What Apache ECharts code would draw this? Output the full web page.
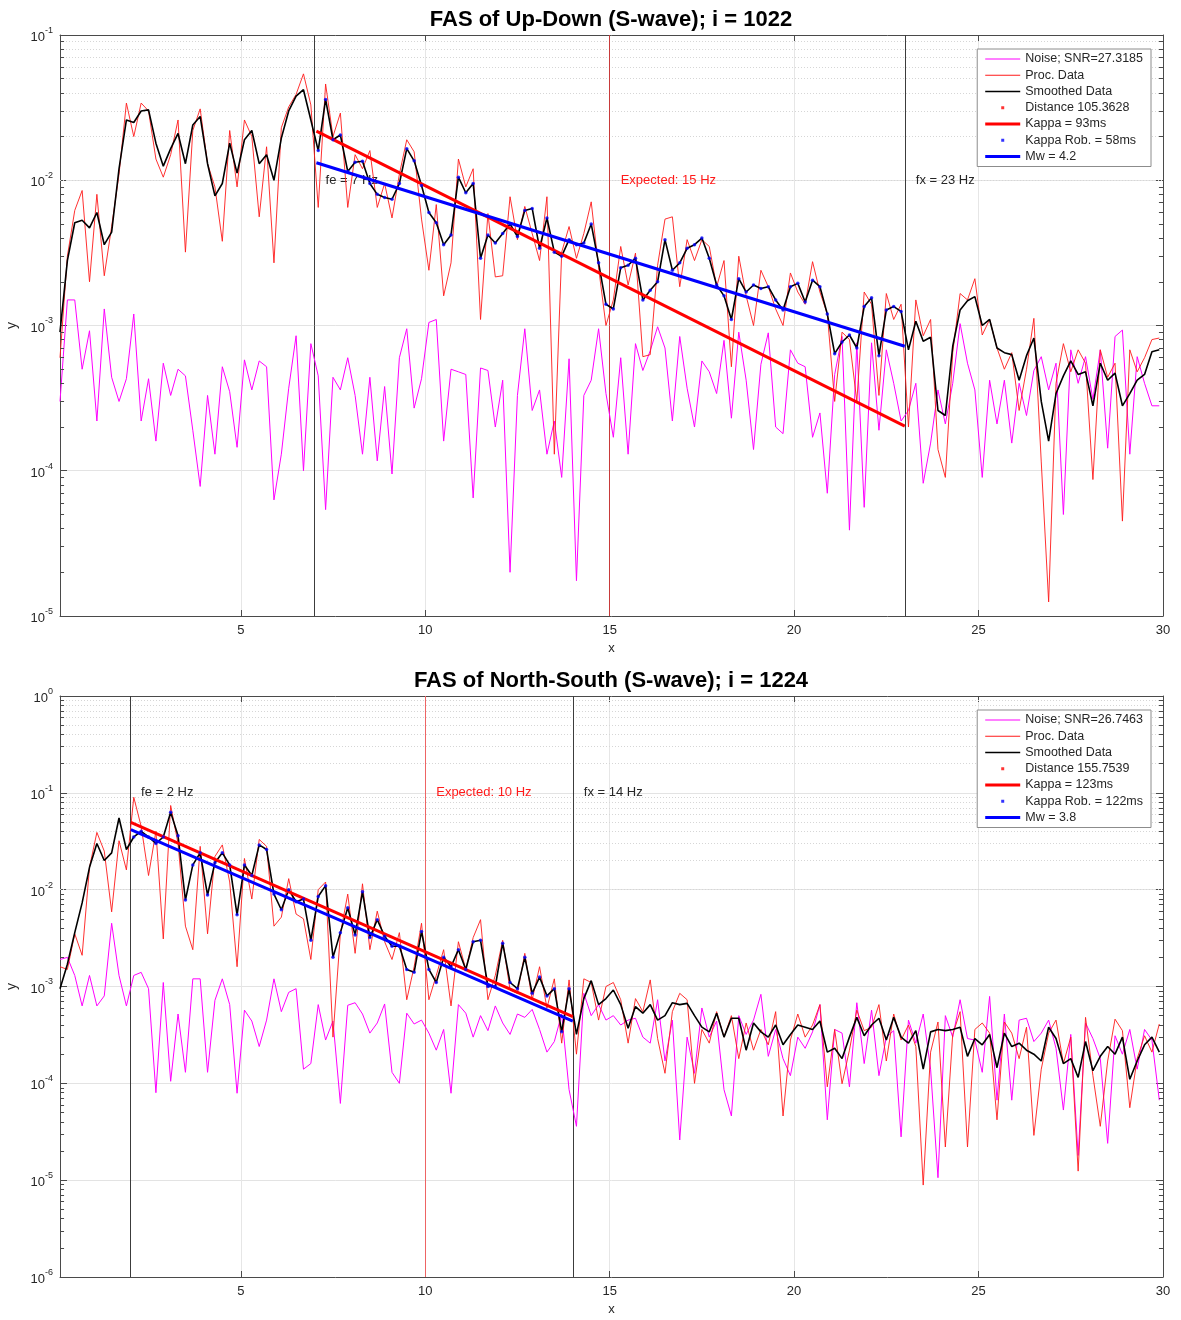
<!DOCTYPE html>
<html>
<head>
<meta charset="utf-8">
<title>FAS</title>
<script src="https://cdn.jsdelivr.net/npm/echarts@6/dist/echarts.min.js"></script>
<style>
  html, body { margin: 0; padding: 0; background: #fff; }
  #chart { width: 1181px; height: 1320px; }
</style>
</head>
<body>
<div id="chart"></div>
<script>
// frequency grid (Hz), shared by every spectrum below
const FREQ_START = 0.1;
const FREQ_STEP = 0.2;
const N_FREQ = 150;

// ---- Up-Down, i = 1022 ----
const udNoise = [
  3.0e-4, 1.5e-3, 1.5e-3, 5.0e-4, 9.2e-4, 2.2e-4, 1.3e-3, 4.4e-4, 3.0e-4, 4.3e-4,
  1.2e-3, 2.2e-4, 4.3e-4, 1.6e-4, 5.5e-4, 3.3e-4, 5.0e-4, 4.5e-4, 1.9e-4, 7.8e-5,
  3.3e-4, 1.3e-4, 5.2e-4, 3.5e-4, 1.45e-4, 5.8e-4, 3.6e-4, 5.7e-4, 5.2e-4, 6.3e-5,
  1.3e-4, 3.7e-4, 8.5e-4, 1.0e-4, 7.5e-4, 4.5e-4, 5.4e-5, 4.4e-4, 3.6e-4, 6.0e-4,
  3.3e-4, 1.3e-4, 4.4e-4, 1.17e-4, 3.8e-4, 9.5e-5, 6.0e-4, 9.5e-4, 2.7e-4, 4.3e-4,
  1.05e-3, 1.1e-3, 1.6e-4, 5.0e-4, 4.8e-4, 4.6e-4, 6.5e-5, 5.1e-4, 4.9e-4, 2.0e-4,
  4.2e-4, 2.0e-5, 3.3e-4, 9.5e-4, 2.6e-4, 3.6e-4, 1.3e-4, 2.2e-4, 9.0e-5, 5.9e-4,
  1.75e-5, 3.3e-4, 4.2e-4, 9.5e-4, 3.4e-4, 1.7e-4, 6.0e-4, 1.3e-4, 7.5e-4, 4.9e-4,
  6.7e-4, 9.8e-4, 7.0e-4, 2.2e-4, 8.4e-4, 3.7e-4, 2.0e-4, 5.7e-4, 4.8e-4, 3.4e-4,
  7.9e-4, 2.3e-4, 9.0e-4, 4.2e-4, 1.4e-4, 5.4e-4, 8.9e-4, 2.0e-4, 1.8e-4, 6.8e-4,
  5.5e-4, 5.2e-4, 1.7e-4, 2.5e-4, 7.0e-5, 4.6e-4, 8.4e-4, 3.9e-5, 7.6e-4, 5.6e-5,
  7.6e-4, 1.9e-4, 6.8e-4, 4.0e-4, 2.2e-4, 2.6e-4, 4.0e-4, 8.2e-5, 1.55e-4, 3.6e-4,
  2.1e-4, 4.0e-4, 1.03e-3, 5.5e-4, 3.6e-4, 9.0e-5, 4.2e-4, 2.1e-4, 4.2e-4, 1.55e-4,
  4.0e-4, 2.4e-4, 4.9e-4, 6.1e-4, 3.6e-4, 5.5e-4, 5.0e-5, 6.8e-4, 4.0e-4, 6.1e-4,
  3.1e-4, 6.8e-4, 1.43e-4, 8.4e-4, 9.3e-4, 1.3e-4, 6.1e-4, 4.0e-4, 2.8e-4, 2.8e-4
];
const udProc = [
  6.0e-4, 3.0e-3, 6.2e-3, 8.5e-3, 2.0e-3, 8.0e-3, 2.2e-3, 4.8e-3, 1.1e-2, 3.4e-2,
  2.0e-2, 3.4e-2, 3.0e-2, 1.4e-2, 1.05e-2, 1.5e-2, 2.6e-2, 3.2e-3, 2.2e-2, 3.1e-2,
  1.3e-2, 9.0e-3, 3.8e-3, 2.2e-2, 9.0e-3, 2.6e-2, 2.0e-2, 5.6e-3, 1.7e-2, 2.7e-3,
  2.3e-2, 3.2e-2, 3.9e-2, 5.4e-2, 3.3e-2, 6.5e-3, 4.6e-2, 2.0e-2, 2.9e-2, 6.5e-3,
  1.5e-2, 1.2e-2, 1.6e-2, 6.5e-3, 9.5e-3, 5.5e-3, 1.1e-2, 1.9e-2, 1.57e-2, 5.4e-3,
  2.4e-3, 6.8e-3, 1.6e-3, 2.7e-3, 1.4e-2, 9.0e-3, 1.2e-2, 1.1e-3, 5.9e-3, 2.16e-3,
  2.2e-3, 7.7e-3, 3.9e-3, 6.6e-3, 4.3e-3, 2.8e-3, 7.7e-3, 1.3e-4, 3.2e-3, 4.8e-3,
  2.9e-3, 4.3e-3, 7.1e-3, 2.5e-3, 1.0e-3, 1.5e-3, 3.5e-3, 1.9e-3, 3.15e-3, 6.1e-4,
  6.3e-4, 2.6e-3, 5.4e-3, 5.6e-3, 1.85e-3, 3.9e-3, 2.8e-3, 3.9e-3, 3.5e-3, 1.85e-3,
  2.8e-3, 5.2e-4, 3.0e-3, 1.6e-3, 1.0e-3, 2.4e-3, 1.85e-3, 1.3e-3, 1.0e-3, 2.3e-3,
  1.7e-3, 1.4e-3, 2.75e-3, 1.7e-3, 1.2e-3, 3.0e-4, 9.0e-4, 8.0e-4, 3.0e-4, 1.7e-3,
  1.4e-3, 3.3e-4, 1.66e-3, 1.1e-3, 1.4e-3, 2.0e-4, 1.5e-3, 8.5e-4, 1.1e-3, 1.4e-4,
  9.0e-5, 6.5e-4, 1.66e-3, 1.5e-3, 2.1e-3, 8.6e-4, 1.1e-3, 7.0e-4, 5.0e-4, 6.5e-4,
  2.6e-4, 5.0e-4, 1.12e-3, 1.15e-4, 1.25e-5, 4.0e-4, 7.5e-4, 4.8e-4, 6.8e-4, 5.5e-4,
  8.7e-5, 6.8e-4, 4.4e-4, 5.5e-4, 4.5e-5, 6.8e-4, 4.8e-4, 6.0e-4, 8.0e-4, 8.2e-4
];
const udSmooth = [
  9.0e-4, 2.8e-3, 5.1e-3, 5.3e-3, 4.7e-3, 6.0e-3, 3.6e-3, 4.4e-3, 1.2e-2, 2.6e-2,
  2.5e-2, 3.0e-2, 3.05e-2, 1.8e-2, 1.25e-2, 1.65e-2, 2.1e-2, 1.3e-2, 2.4e-2, 2.75e-2,
  1.3e-2, 7.8e-3, 9.5e-3, 1.8e-2, 1.12e-2, 1.9e-2, 2.2e-2, 1.3e-2, 1.5e-2, 1.0e-2,
  1.95e-2, 3.0e-2, 3.8e-2, 4.2e-2, 2.6e-2, 1.6e-2, 3.6e-2, 1.9e-2, 2.05e-2, 1.15e-2,
  1.33e-2, 1.35e-2, 9.5e-3, 8.0e-3, 7.6e-3, 7.4e-3, 9.5e-3, 1.65e-2, 1.36e-2, 9.2e-3,
  6.0e-3, 5.1e-3, 3.6e-3, 4.2e-3, 1.05e-2, 8.2e-3, 9.5e-3, 2.9e-3, 4.2e-3, 3.7e-3,
  4.3e-3, 5.0e-3, 4.1e-3, 6.2e-3, 6.4e-3, 3.4e-3, 5.5e-3, 3.2e-3, 3.0e-3, 3.9e-3,
  3.6e-3, 3.7e-3, 5.0e-3, 2.7e-3, 1.4e-3, 1.3e-3, 2.5e-3, 2.6e-3, 2.9e-3, 1.5e-3,
  1.75e-3, 2.0e-3, 3.9e-3, 2.4e-3, 2.7e-3, 3.4e-3, 3.6e-3, 4.0e-3, 2.9e-3, 1.9e-3,
  1.6e-3, 1.1e-3, 2.1e-3, 1.7e-3, 1.9e-3, 1.8e-3, 1.85e-3, 1.5e-3, 1.28e-3, 1.85e-3,
  1.95e-3, 1.45e-3, 2.05e-3, 1.85e-3, 1.2e-3, 6.4e-4, 7.7e-4, 8.6e-4, 7.0e-4, 1.35e-3,
  1.55e-3, 6.2e-4, 1.28e-3, 1.35e-3, 1.25e-3, 6.8e-4, 1.07e-3, 7.8e-4, 8.3e-4, 2.6e-4,
  2.4e-4, 7.2e-4, 1.28e-3, 1.48e-3, 1.58e-3, 1.0e-3, 1.1e-3, 7.0e-4, 6.5e-4, 6.3e-4,
  4.2e-4, 6.2e-4, 8.2e-4, 3.0e-4, 1.6e-4, 3.4e-4, 4.5e-4, 5.7e-4, 4.6e-4, 4.8e-4,
  2.8e-4, 5.5e-4, 4.2e-4, 4.7e-4, 2.8e-4, 3.4e-4, 4.2e-4, 4.6e-4, 6.6e-4, 6.8e-4
];
const udKappa = [[7.05, 2.18e-2], [23, 2.03e-4]];
const udMw = [[7.05, 1.32e-2], [23, 7.2e-4]];
const udMarks = [7, 15, 23]; // fe, expected, fx
const udLegend = ['Noise; SNR=27.3185', 'Proc. Data', 'Smoothed Data', 'Distance 105.3628',
  'Kappa = 93ms', 'Kappa Rob. = 58ms', 'Mw = 4.2'];
const udTicks = [1e-5, 1e-4, 1e-3, 1e-2, 1e-1];

// ---- North-South, i = 1224 ----
const nsNoise = [
  1.9e-3, 2.0e-3, 1.3e-3, 6.3e-4, 1.3e-3, 6.3e-4, 8.0e-4, 4.5e-3, 1.3e-3, 6.3e-4,
  1.3e-3, 1.4e-3, 9.5e-4, 8.0e-5, 1.1e-3, 1.05e-4, 5.2e-4, 1.3e-4, 1.2e-3, 1.2e-3,
  1.3e-4, 7.2e-4, 1.2e-3, 6.5e-4, 7.9e-5, 5.7e-4, 4.4e-4, 2.4e-4, 4.5e-4, 1.2e-3,
  5.5e-4, 8.7e-4, 9.5e-4, 1.4e-4, 1.6e-4, 6.5e-4, 2.8e-4, 4.4e-4, 6.2e-5, 6.4e-4,
  6.8e-4, 5.2e-4, 3.3e-4, 4.2e-4, 6.6e-4, 1.3e-4, 1.0e-4, 5.3e-4, 4.1e-4, 4.5e-4,
  3.3e-4, 2.2e-4, 3.6e-4, 7.9e-5, 6.5e-4, 5.3e-4, 3.0e-4, 5.0e-4, 3.5e-4, 6.3e-4,
  4.2e-4, 3.2e-4, 5.2e-4, 4.8e-4, 5.8e-4, 3.6e-4, 2.1e-4, 2.7e-4, 5.2e-4, 8.6e-5,
  3.6e-5, 8.5e-4, 5.0e-4, 6.5e-4, 4.5e-4, 5.0e-4, 4.0e-4, 4.5e-4, 4.7e-4, 3.0e-4,
  2.6e-4, 7.3e-4, 1.7e-4, 4.5e-4, 2.6e-5, 3.0e-4, 1.27e-4, 6.0e-4, 3.0e-4, 4.4e-4,
  8.6e-5, 4.6e-5, 5.0e-4, 3.2e-4, 4.5e-4, 8.3e-4, 1.9e-4, 3.6e-4, 1.8e-4, 1.2e-4,
  3.0e-4, 2.3e-4, 3.4e-4, 6.5e-4, 4.2e-5, 3.6e-4, 3.3e-4, 9.2e-5, 6.8e-4, 1.6e-4,
  5.7e-4, 1.2e-4, 3.0e-4, 3.5e-4, 2.8e-5, 4.5e-4, 2.6e-4, 5.2e-4, 1.4e-4, 1.06e-5,
  5.0e-4, 3.0e-4, 7.3e-4, 2.9e-4, 2.8e-4, 1.3e-4, 7.9e-4, 6.7e-5, 5.2e-4, 6.7e-5,
  4.5e-4, 4.7e-4, 2.7e-4, 3.3e-4, 4.5e-4, 2.3e-4, 5.3e-5, 3.2e-4, 1.8e-5, 4.2e-4,
  2.9e-4, 1.8e-4, 2.4e-5, 3.1e-4, 2.0e-4, 3.6e-4, 1.4e-4, 3.6e-4, 2.8e-4, 6.7e-5
];
const nsProc = [
  1.6e-3, 1.5e-3, 3.5e-3, 2.1e-3, 1.7e-2, 3.9e-2, 2.5e-2, 5.9e-3, 3.2e-2, 1.6e-2,
  9.0e-2, 4.5e-2, 1.4e-2, 4.0e-2, 3.1e-3, 7.4e-2, 3.0e-2, 4.2e-3, 2.4e-3, 2.8e-2,
  3.5e-3, 2.2e-2, 2.9e-2, 1.2e-2, 1.6e-3, 2.1e-2, 8.0e-3, 3.3e-2, 2.8e-2, 4.2e-3,
  5.2e-3, 1.3e-2, 5.6e-3, 5.0e-3, 1.9e-3, 1.0e-2, 1.2e-2, 3.0e-4, 3.5e-3, 9.0e-3,
  2.2e-3, 1.15e-2, 2.4e-3, 6.0e-3, 2.9e-3, 1.9e-3, 3.6e-3, 7.3e-4, 1.6e-3, 4.5e-3,
  7.3e-4, 1.3e-3, 2.4e-3, 6.3e-4, 2.9e-3, 1.5e-3, 3.2e-3, 4.9e-3, 7.3e-4, 1.3e-3,
  3.0e-3, 9.2e-4, 8.5e-4, 2.2e-3, 7.3e-4, 1.6e-3, 6.0e-4, 1.2e-3, 2.6e-4, 1.17e-3,
  2.0e-4, 1.2e-3, 1.1e-3, 4.5e-4, 1.0e-3, 1.1e-3, 7.3e-4, 2.6e-4, 7.5e-4, 5.5e-4,
  1.17e-3, 2.9e-4, 1.27e-4, 5.5e-4, 8.5e-4, 7.3e-4, 1.0e-4, 3.6e-4, 2.6e-4, 5.5e-4,
  3.0e-4, 5.0e-4, 1.8e-4, 4.2e-4, 2.2e-4, 3.6e-4, 2.5e-4, 5.5e-4, 4.6e-5, 2.8e-4,
  5.2e-4, 3.0e-4, 4.0e-4, 6.5e-4, 9.2e-5, 3.6e-4, 9.9e-5, 2.2e-4, 5.7e-4, 3.5e-4,
  3.8e-4, 6.5e-4, 1.7e-4, 5.2e-4, 2.8e-4, 4.0e-4, 2.4e-4, 8.9e-6, 2.1e-4, 4.3e-4,
  2.2e-5, 3.2e-4, 5.5e-4, 2.2e-5, 3.6e-4, 4.2e-4, 3.3e-4, 4.2e-5, 4.3e-4, 3.3e-4,
  1.8e-4, 3.8e-4, 2.9e-5, 1.4e-4, 3.3e-4, 4.5e-4, 1.6e-4, 3.0e-4, 1.24e-5, 4.8e-4,
  1.2e-4, 3.6e-5, 1.7e-4, 4.6e-4, 3.5e-4, 5.6e-5, 1.8e-4, 3.1e-4, 2.1e-4, 4.1e-4
];
const nsSmooth = [
  9.5e-4, 1.7e-3, 3.6e-3, 7.3e-3, 1.7e-2, 3.0e-2, 2.0e-2, 2.4e-2, 5.5e-2, 2.6e-2,
  3.5e-2, 4.0e-2, 3.5e-2, 3.0e-2, 3.5e-2, 6.3e-2, 3.6e-2, 7.8e-3, 1.8e-2, 2.4e-2,
  8.8e-3, 1.9e-2, 2.4e-2, 1.8e-2, 5.5e-3, 1.8e-2, 1.4e-2, 2.9e-2, 2.6e-2, 9.0e-3,
  6.2e-3, 1.0e-2, 7.5e-3, 8.0e-3, 3.0e-3, 8.5e-3, 1.1e-2, 2.0e-3, 3.6e-3, 6.5e-3,
  3.4e-3, 9.5e-3, 3.2e-3, 4.9e-3, 3.3e-3, 2.6e-3, 2.6e-3, 1.5e-3, 1.4e-3, 3.7e-3,
  1.5e-3, 1.1e-3, 2.0e-3, 1.6e-3, 2.4e-3, 1.5e-3, 2.9e-3, 3.0e-3, 1.0e-3, 1.0e-3,
  2.8e-3, 1.1e-3, 9.5e-4, 2.0e-3, 8.5e-4, 1.25e-3, 8.0e-4, 9.5e-4, 3.4e-4, 9.5e-4,
  3.2e-4, 7.5e-4, 1.15e-3, 6.5e-4, 7.5e-4, 9.2e-4, 6.5e-4, 3.7e-4, 6.2e-4, 5.3e-4,
  6.5e-4, 4.5e-4, 5.0e-4, 6.8e-4, 6.5e-4, 6.7e-4, 5.0e-4, 3.8e-4, 3.4e-4, 5.3e-4,
  3.0e-4, 4.7e-4, 4.7e-4, 2.2e-4, 4.2e-4, 3.4e-4, 3.0e-4, 4.0e-4, 2.5e-4, 3.2e-4,
  4.0e-4, 3.8e-4, 3.6e-4, 4.4e-4, 2.1e-4, 2.3e-4, 1.8e-4, 3.0e-4, 4.8e-4, 3.1e-4,
  4.0e-4, 4.7e-4, 2.8e-4, 4.8e-4, 3.0e-4, 2.6e-4, 3.5e-4, 1.4e-4, 3.4e-4, 3.6e-4,
  3.5e-4, 3.6e-4, 3.8e-4, 1.9e-4, 2.9e-4, 2.5e-4, 3.2e-4, 1.45e-4, 3.3e-4, 2.4e-4,
  2.6e-4, 2.2e-4, 2.0e-4, 1.7e-4, 3.8e-4, 2.9e-4, 1.6e-4, 1.8e-4, 1.15e-4, 2.7e-4,
  1.35e-4, 1.9e-4, 2.4e-4, 2.0e-4, 3.0e-4, 1.1e-4, 1.7e-4, 2.5e-4, 3.0e-4, 2.1e-4
];
const nsKappa = [[2.02, 4.96e-2], [14, 4.88e-4]];
const nsMw = [[2.02, 4.16e-2], [14, 4.4e-4]];
const nsMarks = [2, 10, 14];
const nsLegend = ['Noise; SNR=26.7463', 'Proc. Data', 'Smoothed Data', 'Distance 155.7539',
  'Kappa = 123ms', 'Kappa Rob. = 122ms', 'Mw = 3.8'];
const nsTicks = [1e-6, 1e-5, 1e-4, 1e-3, 1e-2, 1e-1, 1];

const freqs = Array.from({ length: N_FREQ }, (_, i) => Math.round((FREQ_START + i * FREQ_STEP) * 100) / 100);
const pairs = (vals) => vals.map((v, i) => [freqs[i], v]);

const FONT = "'Liberation Sans', Arial, Helvetica, sans-serif";
const INK = '#262626';
const FRAME = '#4a4a4a';
// legend icons drawn in a 35x14 box
const DOT_ICON = 'path://M0,0M35,14M16,5.5h3v3h-3z';
const THIN_ICON = 'path://M0,0M35,14M0,6.5h35v1h-35z';
const MID_ICON = 'path://M0,0M35,14M0,6.2h35v1.6h-35z';
const THICK_ICON = 'path://M0,0M35,14M0,5.5h35v3h-35z';
const LEGEND_ICONS = [THIN_ICON, THIN_ICON, MID_ICON, DOT_ICON, THICK_ICON, DOT_ICON, THICK_ICON];

const panels = [
  {
    title: 'FAS of Up-Down (S-wave); i = 1022', top: 35, legendTop: 49,
    ticks: udTicks, noise: udNoise, proc: udProc, smooth: udSmooth,
    kappa: udKappa, mw: udMw, marks: udMarks, legend: udLegend, labelAt: 1e-2,
    expColor: '#c83a3a'
  },
  {
    title: 'FAS of North-South (S-wave); i = 1224', top: 696, legendTop: 710,
    ticks: nsTicks, noise: nsNoise, proc: nsProc, smooth: nsSmooth,
    kappa: nsKappa, mw: nsMw, marks: nsMarks, legend: nsLegend, labelAt: 1e-1,
    expColor: '#ee6464'
  }
];

const PLOT_H = 581;
const option = {
  animation: false,
  backgroundColor: '#fff',
  textStyle: { fontFamily: FONT },
  grid: [], xAxis: [], yAxis: [], series: [], legend: [], graphic: []
};

panels.forEach((p, gi) => {
  const yMin = p.ticks[0];
  const yMax = p.ticks[p.ticks.length - 1];
  const [fe, fexp, fx] = p.marks;

  option.grid.push({
    left: 60, top: p.top, width: 1103, height: PLOT_H,
    containLabel: false, outerBoundsMode: 'none'
  });

  // bottom and top x axes
  option.xAxis.push({
    type: 'value', gridIndex: gi, min: 0.1, max: 30, position: 'bottom',
    name: 'x', nameLocation: 'middle', nameGap: 26,
    nameTextStyle: { fontSize: 13, color: INK },
    axisLine: { show: true, lineStyle: { color: FRAME } },
    axisTick: { show: true, inside: true, length: 6, lineStyle: { color: FRAME } },
    axisLabel: { fontSize: 13, color: INK, margin: 8, showMinLabel: false },
    splitLine: { show: true, lineStyle: { color: '#e6e6e6', width: 1 } }
  });
  option.xAxis.push({
    type: 'value', gridIndex: gi, min: 0.1, max: 30, position: 'top',
    axisLine: { show: true, lineStyle: { color: FRAME } },
    axisTick: { show: true, inside: true, length: 6, lineStyle: { color: FRAME } },
    axisLabel: { show: false }, splitLine: { show: false }
  });

  // left and right log axes
  option.yAxis.push({
    type: 'log', logBase: 10, gridIndex: gi, min: yMin, max: yMax, position: 'left',
    name: 'y', nameLocation: 'middle', nameGap: 38, nameRotate: 90,
    nameTextStyle: { fontSize: 14, color: INK },
    axisLine: { show: true, lineStyle: { color: FRAME } },
    axisTick: { show: true, inside: true, length: 7, lineStyle: { color: FRAME } },
    axisLabel: {
      margin: 7,
      formatter: (v) => `{b|10}{e|${Math.round(Math.log10(v))}}`,
      rich: {
        b: { fontSize: 13, color: INK, lineHeight: 18, verticalAlign: 'bottom' },
        e: { fontSize: 9, color: INK, lineHeight: 10, verticalAlign: 'top' }
      }
    },
    splitLine: { show: true, lineStyle: { color: '#e3e3e3', width: 1 } },
    minorTick: { show: false }
  });
  option.yAxis.push({
    type: 'log', logBase: 10, gridIndex: gi, min: yMin, max: yMax, position: 'right',
    axisLine: { show: true, lineStyle: { color: FRAME } },
    axisTick: { show: true, inside: true, length: 7, lineStyle: { color: FRAME } },
    axisLabel: { show: false }, splitLine: { show: false }
  });

  const xi = gi * 2;
  const yi = gi * 2;

  // dotted minor grid and short minor ticks at 2..9 x each decade
  const minorValues = [];
  for (let d = yMin; d < yMax * 0.999; d *= 10) {
    for (let k = 2; k <= 9; k++) minorValues.push(k * d);
  }
  const minorTicks = [];
  minorValues.forEach((v) => {
    minorTicks.push([{ coord: [0.1, v] }, { coord: [0.21, v] }]);
    minorTicks.push([{ coord: [29.89, v] }, { coord: [30, v] }]);
  });

  option.series.push({
    type: 'line', name: 'grid' + gi, xAxisIndex: xi, yAxisIndex: yi, data: [],
    silent: true, symbol: 'none', z: 1,
    markLine: {
      z: 1, silent: true, symbol: ['none', 'none'], label: { show: false },
      lineStyle: { color: '#d6d6d6', type: [1, 2], width: 1 },
      emphasis: { disabled: true },
      data: minorValues.map((v) => ({ yAxis: v }))
    }
  });
  option.series.push({
    type: 'line', name: 'ticks' + gi, xAxisIndex: xi, yAxisIndex: yi, data: [],
    silent: true, symbol: 'none', z: 10,
    markLine: {
      z: 10, silent: true, symbol: ['none', 'none'], label: { show: false },
      lineStyle: { color: FRAME, type: 'solid', width: 1 },
      emphasis: { disabled: true },
      data: minorTicks
    }
  });
  option.series.push({
    type: 'line', name: 'marks' + gi, xAxisIndex: xi, yAxisIndex: yi, data: [],
    silent: true, symbol: 'none', z: 2,
    markLine: {
      z: 2, silent: true, symbol: ['none', 'none'], label: { show: false },
      emphasis: { disabled: true },
      lineStyle: { type: 'solid', width: 1 },
      data: [
        { xAxis: fe, lineStyle: { color: '#3c3c3c' } },
        { xAxis: fexp, lineStyle: { color: p.expColor } },
        { xAxis: fx, lineStyle: { color: '#3c3c3c' } }
      ]
    },
    markPoint: {
      z: 2, silent: true, symbol: 'circle', symbolSize: 0,
      label: { show: true, position: 'right', distance: 11, fontSize: 13, color: INK, formatter: '{b}' },
      data: [
        { name: `fe = ${fe} Hz`, coord: [fe, p.labelAt] },
        { name: `Expected: ${fexp} Hz`, coord: [fexp, p.labelAt], label: { color: '#ff1a1a' } },
        { name: `fx = ${fx} Hz`, coord: [fx, p.labelAt] }
      ]
    }
  });

  const common = { xAxisIndex: xi, yAxisIndex: yi, symbol: 'none', showSymbol: false, emphasis: { disabled: true } };
  const smoothPts = pairs(p.smooth);
  option.series.push(
    Object.assign({ type: 'line', name: p.legend[0], data: pairs(p.noise), z: 3,
      color: '#ff00ff', lineStyle: { color: '#ff00ff', width: 1 } }, common),
    Object.assign({ type: 'line', name: p.legend[1], data: pairs(p.proc), z: 4,
      color: '#ff1a1a', lineStyle: { color: '#ff1a1a', width: 0.9 } }, common),
    Object.assign({ type: 'line', name: p.legend[2], data: smoothPts, z: 5,
      color: '#000', lineStyle: { color: '#000', width: 1.6 } }, common),
    { type: 'scatter', name: p.legend[3], xAxisIndex: xi, yAxisIndex: yi, data: [],
      color: '#ff0000', symbolSize: 3, z: 6 },
    Object.assign({ type: 'line', name: p.legend[4], data: p.kappa, z: 7,
      color: '#ff0000', lineStyle: { color: '#ff0000', width: 3 } }, common),
    { type: 'scatter', name: p.legend[5], xAxisIndex: xi, yAxisIndex: yi, z: 8,
      data: smoothPts.filter(([f]) => f >= fe && f <= fx),
      color: '#0000ff', symbol: 'circle', symbolSize: 3.5, emphasis: { disabled: true } },
    Object.assign({ type: 'line', name: p.legend[6], data: p.mw, z: 9,
      color: '#0000ff', lineStyle: { color: '#0000ff', width: 3 } }, common)
  );

  option.legend.push({
    z: 20, orient: 'vertical', right: 30, top: p.legendTop,
    backgroundColor: '#fff', borderColor: '#8c8c8c', borderWidth: 1,
    padding: [3, 8, 3, 8], itemGap: 2.25, itemWidth: 35, itemHeight: 14,
    selectedMode: false,
    textStyle: { fontSize: 12.5, color: INK },
    data: p.legend.map((name, i) => ({ name, icon: LEGEND_ICONS[i] }))
  });

  option.graphic.push({
    type: 'text', x: 611, y: p.top - 15,
    style: { text: p.title, font: `bold 22px ${FONT}`, fill: '#000', align: 'center', verticalAlign: 'middle' }
  });
});

const chart = echarts.init(document.getElementById('chart'), null, { renderer: 'canvas' });
chart.setOption(option);
</script>
</body>
</html>
